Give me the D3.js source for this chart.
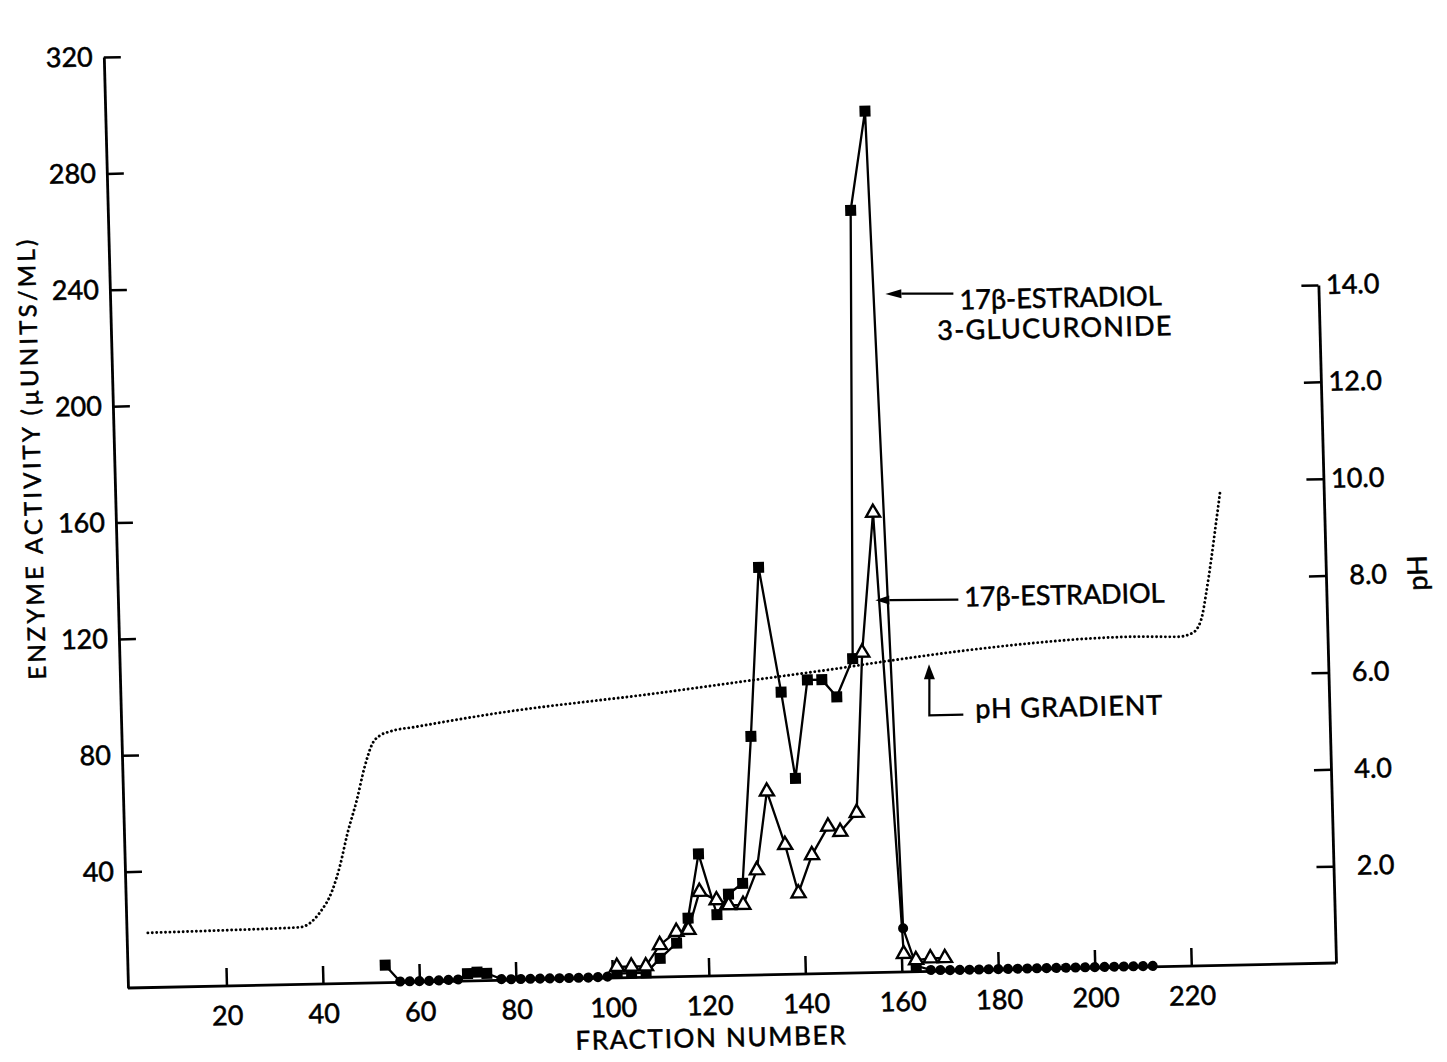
<!DOCTYPE html>
<html>
<head>
<meta charset="utf-8">
<script src="https://cdn.jsdelivr.net/npm/d3@7"></script>
<style>
  html, body { margin: 0; padding: 0; background: #fff; }
  svg { display: block; }
  text { font-family: Lato, "Noto Sans", sans-serif; fill: #000; stroke: #000; stroke-width: 0.55px; }
</style>
</head>
<body>
<svg id="chart" width="1447" height="1062"></svg>
<script>
// Activity toward 17β-estradiol 3-glucuronide (filled markers), µunits/ml per fraction
const glucFraction = [53, 56, 58, 60, 62, 64, 66, 68, 70, 72, 74,
  77, 79, 81, 83, 85, 87, 89, 91, 93, 95, 97, 99,
  101, 104, 107, 110, 113.5, 116, 118.5, 122, 124.5, 127.5, 130, 132.5, 136.5,
  139, 142, 145, 148, 151.5, 153.5, 157, 160.5, 163,
  166, 168, 170, 172, 174, 176, 178, 180, 182, 184, 186, 188,
  190, 192, 194, 196, 198, 200, 202, 204, 206, 208, 210, 212];
const glucActivity = [6, 0.3, 0.3, 0.3, 0.3, 0.4, 0.5, 0.6, 2.5, 3, 2.5,
  0.4, 0.3, 0.3, 0.3, 0.3, 0.3, 0.3, 0.3, 0.3, 0.3, 0.4, 0.5,
  1.5, 1.5, 1.5, 6.4, 11.5, 20, 42, 21, 28, 31.6, 82, 140, 97,
  67.3, 101, 101, 95, 108, 262, 296, 15, 2,
  0.5, 0.4, 0.3, 0.3, 0.3, 0.3, 0.3, 0.3, 0.3, 0.3, 0.3, 0.3,
  0.3, 0.3, 0.3, 0.3, 0.3, 0.3, 0.3, 0.3, 0.3, 0.3, 0.3, 0.3];
// marker shape per point: s = square, c = dot
const glucMarker = ["s", "c", "c", "c", "c", "c", "c", "c", "s", "s", "s",
  "c", "c", "c", "c", "c", "c", "c", "c", "c", "c", "c", "c",
  "s", "s", "s", "s", "s", "s", "s", "s", "s", "s", "s", "s", "s",
  "s", "s", "s", "s", "s", "s", "s", "c", "s",
  "c", "c", "c", "c", "c", "c", "c", "c", "c", "c", "c", "c",
  "c", "c", "c", "c", "c", "c", "c", "c", "c", "c", "c", "c"];

// Activity toward 17β-estradiol (open triangles)
const estFraction = [101, 104, 107, 110, 113.5, 116, 118.5, 122, 124.5, 127.5, 130.5, 133,
  136.5, 139, 142, 145.5, 148, 151.5, 153.5, 156.5, 160.5, 163, 166, 169];
const estActivity = [3.8, 3.8, 3.8, 11, 15.4, 16, 29, 26, 24.2, 24.2, 36, 63,
  44.5, 27.8, 40.8, 50.5, 48.6, 55, 110, 158, 6.2, 4, 4.5, 4.5];

// pH gradient along the column
const phFraction = [4, 20, 35.5, 37.6, 39.7, 42.5, 44.1, 45.9, 48, 49.8, 51.6, 53.1, 55.2, 60.8,
  78, 110, 130, 149, 160, 176, 190, 200, 210, 219, 222, 223.9, 225.1, 226.3, 227.4, 228.6];
const phValue = [1.13, 1.15, 1.18, 1.26, 1.47, 1.94, 2.41, 3.1, 3.78, 4.46, 4.95, 5.1, 5.18, 5.27,
  5.52, 5.85, 6.08, 6.3, 6.44, 6.62, 6.74, 6.8, 6.82, 6.8, 6.87, 7.14, 7.69, 8.37, 9.06, 9.82];

const fractionTicks = [20, 40, 60, 80, 100, 120, 140, 160, 180, 200, 220];
const activityTicks = [40, 80, 120, 160, 200, 240, 280, 320];
const phTicks = [2, 4, 6, 8, 10, 12, 14];

const svg = d3.select("#chart");

// plot frame; the printed figure sits slightly askew on the page
const plot = svg.append("g")
  .attr("transform", "matrix(1,-0.0207,0.026,1,128,988)");

const xScale = d3.scaleLinear().domain([0, 250]).range([2, 1208]);
const yAct = d3.scaleLinear().domain([0, 320]).range([0, -931]);
const yPh = d3.scaleLinear().domain([0, 14]).range([0, -678]);

const FONT = "Lato, 'Noto Sans', sans-serif";

function styleAxis(g) {
  g.attr("font-family", FONT).attr("font-size", 27);
  g.selectAll(".domain").attr("stroke-width", 2.8);
  g.selectAll(".tick line").attr("stroke-width", 2.5);
  g.selectAll("text").attr("fill", "#000");
}

// baseline
plot.append("path")
  .attr("d", `M0,0H${xScale(250)}`)
  .attr("stroke", "#000").attr("stroke-width", 2.8).attr("fill", "none");

// left axis: enzyme activity
plot.append("g")
  .call(d3.axisLeft(yAct).tickValues(activityTicks).tickSize(-17).tickSizeOuter(0).tickPadding(11))
  .call(styleAxis);

// bottom axis: fraction number
plot.append("g")
  .call(d3.axisBottom(xScale).tickValues(fractionTicks).tickSize(-18).tickSizeOuter(0).tickPadding(20))
  .call(styleAxis)
  .call(g => g.select(".domain").remove());

// right axis: pH
plot.append("g")
  .attr("transform", `translate(${xScale(250)},0)`)
  .call(d3.axisRight(yPh).tickValues(phTicks).tickSize(-17).tickSizeOuter(0).tickFormat(d3.format(".1f")))
  .call(styleAxis)
  .call(g => g.selectAll("text").attr("text-anchor", "end").attr("x", 61));

// pH gradient, dotted
const phPts = phFraction.map((f, i) => [f, phValue[i]]);
plot.append("path")
  .attr("d", d3.line().x(d => xScale(d[0])).y(d => yPh(d[1])).curve(d3.curveMonotoneX)(phPts))
  .attr("fill", "none").attr("stroke", "#000").attr("stroke-width", 2.9)
  .attr("stroke-linecap", "round").attr("stroke-dasharray", "0.01 4.4");

const actLine = d3.line().x(d => xScale(d.f)).y(d => yAct(d.v));

const est = estFraction.map((f, i) => ({ f, v: estActivity[i] }));
const gluc = glucFraction.map((f, i) => ({ f, v: glucActivity[i], m: glucMarker[i] }));

plot.append("path").attr("d", actLine(est))
  .attr("fill", "none").attr("stroke", "#000").attr("stroke-width", 2.3);
plot.append("path").attr("d", actLine(gluc))
  .attr("fill", "none").attr("stroke", "#000").attr("stroke-width", 2.3);

// filled markers
plot.append("g").selectAll("path").data(gluc).join("path")
  .attr("transform", d => `translate(${xScale(d.f)},${yAct(d.v)})`)
  .attr("d", d => d.m === "s" ? d3.symbol(d3.symbolSquare, 121)() : d3.symbol(d3.symbolCircle, 80)())
  .attr("fill", "#000");

// open triangles
plot.append("g").selectAll("path").data(est).join("path")
  .attr("transform", d => `translate(${xScale(d.f)},${yAct(d.v)})`)
  .attr("d", d3.symbol(d3.symbolTriangle, 85)())
  .attr("fill", "#fff").attr("stroke", "#000").attr("stroke-width", 2.4);

// annotations
const ann = plot.append("g").attr("font-family", FONT);

function arrowLeft(x1, y1, x2, y2, len, half) {
  ann.append("path").attr("d", `M${x1 + len},${y1}L${x2},${y2}`)
    .attr("stroke", "#000").attr("stroke-width", 2.2).attr("fill", "none");
  ann.append("path").attr("d", `M${x1},${y1}L${x1 + len},${y1 - half}L${x1 + len},${y1 + half}Z`)
    .attr("fill", "#000");
}

arrowLeft(775, -678, 843, -677, 16, 4.5);
ann.append("text").attr("x", 849).attr("y", -661).attr("font-size", 27)
  .attr("textLength", 202).attr("lengthAdjust", "spacing").text("17β-ESTRADIOL");
ann.append("text").attr("x", 826).attr("y", -631).attr("font-size", 27)
  .attr("textLength", 234).attr("lengthAdjust", "spacing").text("3-GLUCURONIDE");

arrowLeft(757, -372, 840, -371, 14, 4.5);
ann.append("text").attr("x", 846).attr("y", -364).attr("font-size", 27)
  .attr("textLength", 200).attr("lengthAdjust", "spacing").text("17β-ESTRADIOL");

// pH gradient pointer
ann.append("path").attr("d", "M809,-293L808,-256L842,-256")
  .attr("stroke", "#000").attr("stroke-width", 2.2).attr("fill", "none");
ann.append("path").attr("d", "M809,-307L803.5,-292L814.5,-292Z").attr("fill", "#000");
ann.append("text").attr("x", 854).attr("y", -252).attr("font-size", 27)
  .attr("textLength", 187).attr("lengthAdjust", "spacing").text("pH GRADIENT");

// axis titles
plot.append("text").attr("x", xScale(120)).attr("y", 71)
  .attr("text-anchor", "middle").attr("font-size", 26)
  .attr("textLength", 270).attr("lengthAdjust", "spacing").text("FRACTION NUMBER");

plot.append("text").attr("transform", "translate(-74,-530) rotate(-90)")
  .attr("text-anchor", "middle").attr("font-size", 24)
  .attr("textLength", 440).attr("lengthAdjust", "spacing").text("ENZYME ACTIVITY (µUNITS/ML)");

plot.append("text").attr("transform", "translate(1309,-388) rotate(-90)")
  .attr("text-anchor", "middle").attr("font-size", 27).text("pH");
</script>
</body>
</html>
